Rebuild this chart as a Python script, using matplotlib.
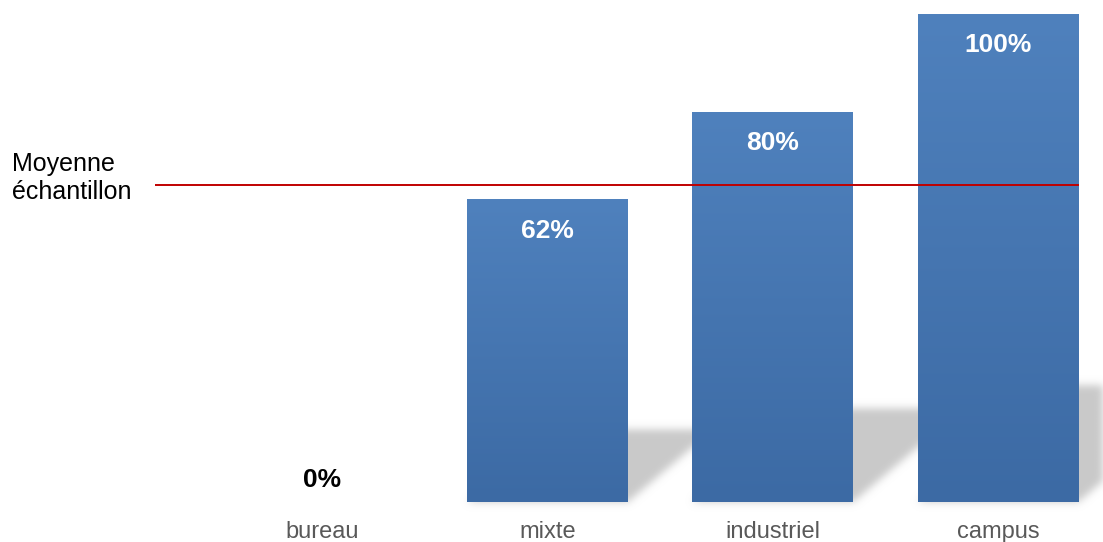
import numpy as np
import matplotlib
matplotlib.use('Agg')
import matplotlib.pyplot as plt
from matplotlib.path import Path
from matplotlib.colors import LinearSegmentedColormap
import matplotlib.transforms as mtransforms

plt.rcParams['font.family'] = ['Liberation Sans', 'DejaVu Sans']

# ---- data ----
categories = ['bureau', 'mixte', 'industriel', 'campus']
values = [0, 62, 80, 100]
value_labels = ['0%', '62%', '80%', '100%']
mean_value = 65
mean_label = 'Moyenne\néchantillon'

# ---- style ----
W, H, DPI = 1103, 542, 100
BAR_W = 0.714
TOP_C, BOT_C = '#4F81BD', '#3C6AA4'
SHADOW_SCALE = 0.24
SHADOW_SHEAR = 0.0255
XLIM = (-1.428, 3.465)

fig = plt.figure(figsize=(W / DPI, H / DPI), dpi=DPI)
ax = fig.add_axes([0, 40 / H, 1, 488 / H])
ax.axis('off')

x = np.arange(len(categories))

# ---- shadow (blurred parallelograms) ----
nx = W
ny = 170
ys = np.linspace(-4, 31, ny)
xs = np.linspace(XLIM[0], XLIM[1], nx)
XX, YY = np.meshgrid(xs, ys)
pts = np.column_stack([XX.ravel(), YY.ravel()])
mask = np.zeros(XX.size, dtype=float)
for xi, v in zip(x, values):
    if v <= 0:
        continue
    sh = v * SHADOW_SCALE
    dx = sh * SHADOW_SHEAR
    x0, x1 = xi - BAR_W / 2, xi + BAR_W / 2
    poly = Path([(x0, 0), (x1, 0), (x1 + dx, sh), (x0 + dx, sh), (x0, 0)])
    mask = np.maximum(mask, poly.contains_points(pts).astype(float))
mask = mask.reshape(ny, nx)

def blur(a, sigma):
    r = int(3 * sigma)
    k = np.exp(-0.5 * (np.arange(-r, r + 1) / sigma) ** 2)
    k /= k.sum()
    a = np.apply_along_axis(lambda m: np.convolve(m, k, mode='same'), 0, a)
    a = np.apply_along_axis(lambda m: np.convolve(m, k, mode='same'), 1, a)
    return a

mask = blur(mask, 4.0)
rgba = np.zeros((ny, nx, 4))
rgba[..., :3] = 0.79
rgba[..., 3] = np.clip(mask, 0, 1)
im = ax.imshow(rgba, extent=[xs[0], xs[-1], ys[0], ys[-1]], origin='lower',
               aspect='auto', interpolation='bilinear', zorder=1)
im.set_clip_on(False)

# ---- bars with gradient ----
bars = ax.bar(x, values, width=BAR_W, color=TOP_C, zorder=3, linewidth=0)
cmap = LinearSegmentedColormap.from_list('g', [BOT_C, TOP_C])
grad = np.linspace(0, 1, 256).reshape(-1, 1)
for b, v in zip(bars, values):
    if v <= 0:
        continue
    gi = ax.imshow(grad, extent=[b.get_x(), b.get_x() + b.get_width(), 0, v],
                   origin='lower', aspect='auto', cmap=cmap, zorder=3.5)
    gi.set_clip_path(b)

# ---- mean line ----
ax.plot([-0.741, 3.357], [mean_value, mean_value], color='#C00000', lw=1.4, zorder=4,
        solid_capstyle='butt')
ax.annotate(mean_label, xy=(12 / W, mean_value),
            xycoords=mtransforms.blended_transform_factory(ax.transAxes, ax.transData),
            xytext=(0, 5), textcoords='offset points', ha='left', va='center',
            fontsize=18, color='#000000', linespacing=1.2, annotation_clip=False)

# ---- value labels ----
for xi, v, lab in zip(x, values, value_labels):
    if v > 0:
        ax.annotate(lab, xy=(xi, v), xytext=(0, -22.5), textcoords='offset points',
                    ha='center', va='center', fontsize=19, fontweight='bold',
                    color='white', zorder=5)
    else:
        ax.annotate(lab, xy=(xi, v), xytext=(0, 16), textcoords='offset points',
                    ha='center', va='center', fontsize=19, fontweight='bold',
                    color='black', zorder=5)

# ---- category labels ----
for xi, c in zip(x, categories):
    ax.annotate(c, xy=(xi, 0), xytext=(0, -26), textcoords='offset points',
                ha='center', va='baseline', fontsize=17, color='#595959',
                annotation_clip=False)

ax.set_xlim(*XLIM)
ax.set_ylim(0, 100)

fig.savefig('out.png', dpi=DPI)
